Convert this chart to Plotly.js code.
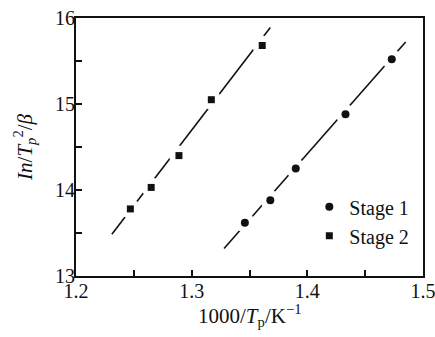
<!DOCTYPE html>
<html>
<head>
<meta charset="utf-8">
<script src="https://cdn.plot.ly/plotly-3.0.1.min.js"></script>
<style>html,body{margin:0;padding:0;background:#fff;}#chart{width:435px;height:337px;}</style>
</head>
<body>
<div id="chart"></div>
<script>
// Stage 1 (circles)
const stage1X = [1.346, 1.368, 1.390, 1.433, 1.473];
const stage1Y = [13.62, 13.88, 14.25, 14.88, 15.52];
// Stage 2 (squares)
const stage2X = [1.247, 1.265, 1.289, 1.317, 1.361];
const stage2Y = [13.78, 14.03, 14.40, 15.05, 15.68];
// Fitted line end points
const fit1X = [1.328, 1.485];
const fit1Y = [13.32, 15.72];
const fit2X = [1.231, 1.368];
const fit2Y = [13.485, 15.89];
const xTicks = [1.2, 1.3, 1.4, 1.5];
const yTicks = [13, 14, 15, 16];
const seriesNames = ['Stage 1', 'Stage 2'];
const xTitle = '1000/<i>T</i><sub>p</sub>/K<sup>−1</sup>';
const yTitle = '<i>In</i>/<i>T</i><sub><i>p</i></sub><sup>2</sup>/<i>β</i>';

const lineStyle = {color: '#111', width: 1.6};
const traces = [
  {x: fit1X, y: fit1Y, mode: 'lines', line: lineStyle, showlegend: false, hoverinfo: 'skip'},
  {x: fit2X, y: fit2Y, mode: 'lines', line: lineStyle, showlegend: false, hoverinfo: 'skip'},
  {x: stage1X, y: stage1Y, mode: 'markers', marker: {symbol: 'circle', size: 20, color: '#fff'}, showlegend: false, hoverinfo: 'skip'},
  {x: stage2X, y: stage2Y, mode: 'markers', marker: {symbol: 'circle', size: 20, color: '#fff'}, showlegend: false, hoverinfo: 'skip'},
  {x: stage1X, y: stage1Y, mode: 'markers', name: seriesNames[0], marker: {symbol: 'circle', size: 8, color: '#111'}},
  {x: stage2X, y: stage2Y, mode: 'markers', name: seriesNames[1], marker: {symbol: 'square', size: 7, color: '#111'}}
];

const fam = '"Liberation Serif", "Times New Roman", serif';
const layout = {
  width: 435, height: 337,
  margin: {l: 76, r: 12, t: 18, b: 61},
  paper_bgcolor: '#fff', plot_bgcolor: '#fff',
  font: {family: fam, size: 20, color: '#111'},
  showlegend: true,
  legend: {x: 0.975, xanchor: 'right', y: 0.08, yanchor: 'bottom', bgcolor: 'rgba(0,0,0,0)',
           font: {family: fam, size: 20, color: '#111'}, tracegroupgap: 0, itemwidth: 30},
  xaxis: {
    range: [1.2, 1.5], tickvals: xTicks, ticktext: xTicks.map(v => v.toFixed(1)),
    ticks: 'inside', ticklen: 6, tickwidth: 2, tickcolor: '#111',
    tickfont: {family: fam, size: 20, color: '#111'},
    ticklabelstandoff: -4, ticklabeloverflow: 'allow',
    minor: {dtick: 0.05, tick0: 1.2, ticks: 'inside', ticklen: 6, tickwidth: 2, tickcolor: '#111', showgrid: false},
    showline: true, linecolor: '#111', linewidth: 2, mirror: true,
    showgrid: false, zeroline: false
  },
  yaxis: {
    range: [13, 16], tickvals: yTicks, ticktext: yTicks.map(String),
    ticks: 'inside', ticklen: 6, tickwidth: 2, tickcolor: '#111',
    tickfont: {family: fam, size: 20, color: '#111'},
    ticklabelstandoff: -5, ticklabeloverflow: 'allow',
    minor: {dtick: 0.5, tick0: 13, ticks: 'inside', ticklen: 6, tickwidth: 2, tickcolor: '#111', showgrid: false},
    showline: true, linecolor: '#111', linewidth: 2, mirror: true,
    showgrid: false, zeroline: false
  },
  annotations: [
    {text: xTitle, xref: 'paper', yref: 'paper', x: 0.5, y: -0.155, xanchor: 'center', yanchor: 'middle',
     showarrow: false, font: {family: fam, size: 21, color: '#111'}},
    {text: yTitle, xref: 'paper', yref: 'paper', x: -0.15, y: 0.5, xanchor: 'center', yanchor: 'middle',
     textangle: -90, showarrow: false, font: {family: fam, size: 21, color: '#111'}}
  ]
};
Plotly.newPlot('chart', traces, layout, {staticPlot: true, displayModeBar: false});
</script>
</body>
</html>
